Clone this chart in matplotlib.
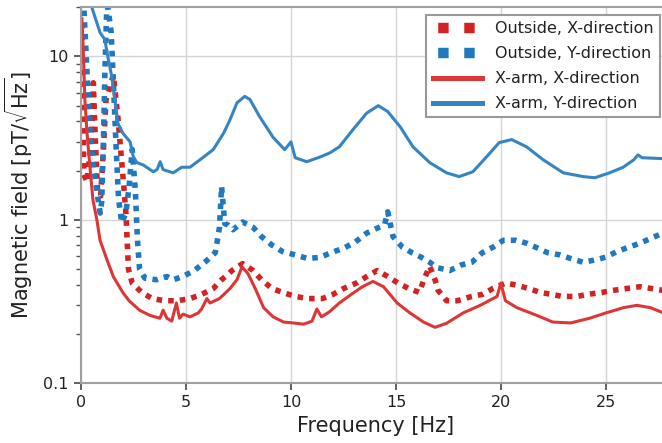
import matplotlib
matplotlib.use("Agg")
import matplotlib.pyplot as plt
from matplotlib.lines import Line2D
from matplotlib.ticker import FixedLocator, FixedFormatter, LogLocator, NullFormatter

# X-arm, Y-direction (solid blue)
arm_y_freq = [0.5, 0.92, 1.15, 1.25, 1.48, 1.63, 1.77, 2.0, 2.35, 2.5, 2.67, 2.97, 3.45, 3.63,
              3.78, 3.92, 4.4, 4.8, 5.2, 5.67, 6.3, 6.8, 7.1, 7.43, 7.8, 8.05, 8.5, 9.15, 9.7,
              10.0, 10.2, 10.75, 11.4, 11.85, 12.3, 12.95, 13.6, 14.15, 14.6, 15.2, 15.8, 16.6,
              17.4, 18.0, 18.65, 19.3, 19.9, 20.5, 21.2, 22.0, 22.95, 23.9, 24.45, 25.15, 25.8,
              26.3, 26.5, 26.7, 27.7]
arm_y_val = [20.5, 14.0, 12.7, 10.6, 7.5, 5.4, 3.9, 3.4, 3.0, 2.44, 2.24, 2.17, 1.97, 2.03,
             2.27, 2.03, 1.94, 2.1, 2.1, 2.33, 2.69, 3.4, 4.1, 5.2, 5.7, 5.45, 4.3, 3.2, 2.69,
             3.0, 2.4, 2.27, 2.43, 2.57, 2.8, 3.57, 4.5, 5.0, 4.6, 3.7, 2.8, 2.24,
             1.94, 1.84, 1.97, 2.43, 2.97, 3.1, 2.8, 2.33, 1.94, 1.84, 1.81, 1.94, 2.1,
             2.33, 2.5, 2.4, 2.37]

# X-arm, X-direction (solid red)
arm_x_freq = [0.06, 0.12, 0.2, 0.3, 0.44, 0.58, 0.77, 0.92, 1.25, 1.55, 2.0, 2.3, 2.8,
              3.3, 3.77, 3.92, 4.1, 4.33, 4.55, 4.7, 4.87, 5.2, 5.6, 5.75, 6.0, 6.15, 6.6,
              7.1, 7.43, 7.67, 7.95, 8.3, 8.7, 9.15, 9.65, 10.1, 10.6, 11.0, 11.23, 11.45,
              11.85, 12.3, 12.95, 13.4, 13.9, 14.4, 15.05, 15.65, 16.3, 16.85, 17.4, 18.2,
              19.0, 19.8, 19.98, 20.2, 20.75, 21.7, 22.45, 23.3, 24.2, 25.0, 25.8, 26.45,
              27.1, 27.7]
arm_x_val = [17.0, 11.0, 5.4, 3.4, 2.1, 1.33, 1.0, 0.75, 0.57, 0.45, 0.36, 0.32, 0.28,
             0.26, 0.25, 0.28, 0.25, 0.24, 0.31, 0.25, 0.265, 0.255, 0.27, 0.285, 0.33, 0.31,
             0.33, 0.38, 0.43, 0.515, 0.47, 0.38, 0.29, 0.255, 0.237, 0.234, 0.23, 0.24,
             0.285, 0.255, 0.275, 0.31, 0.356, 0.39, 0.42, 0.39, 0.31, 0.27, 0.237, 0.22,
             0.233, 0.27, 0.30, 0.34, 0.41, 0.32, 0.29, 0.26, 0.237, 0.234, 0.25, 0.27,
             0.29, 0.30, 0.29, 0.27]

# Outside, X-direction (dotted red)
out_x_freq = [0.05, 0.1, 0.15, 0.3, 0.5, 0.6, 0.7, 0.8, 0.95, 1.1, 1.2, 1.55, 1.75, 1.9,
              2.05, 2.15, 2.22, 2.27, 2.45, 2.9, 3.4, 4.0, 4.6, 5.2, 5.75, 6.3, 6.7, 7.2,
              7.7, 8.2, 8.6, 9.1, 9.6, 10.2, 10.8, 11.5, 12.0, 12.5, 13.1, 13.6, 14.1, 14.6,
              15.1, 15.6, 16.1, 16.35, 16.6, 16.85, 17.0, 17.4, 17.9, 18.6, 19.1, 19.6,
              20.2, 20.7, 21.3, 21.85, 22.4, 22.9, 23.6, 24.1, 24.8, 25.3, 25.95, 26.6,
              27.15, 27.7]
out_x_val = [16.0, 6.0, 1.9, 1.7, 3.0, 6.9, 3.0, 1.5, 1.4, 3.0, 5.4, 7.7, 4.5, 2.7,
             1.6, 1.1, 0.7, 0.5, 0.41, 0.36, 0.33, 0.32, 0.32, 0.33, 0.35, 0.38, 0.43, 0.49,
             0.54, 0.49, 0.43, 0.38, 0.36, 0.34, 0.33, 0.33, 0.35, 0.38, 0.41, 0.45, 0.49,
             0.45, 0.41, 0.38, 0.36, 0.44, 0.52, 0.43, 0.37, 0.32, 0.32, 0.34, 0.35, 0.38,
             0.41, 0.40, 0.38, 0.36, 0.35, 0.34, 0.34, 0.35, 0.36, 0.37, 0.38, 0.39, 0.38,
             0.37]

# Outside, Y-direction (dotted blue)
out_y_freq = [0.05, 0.15, 0.3, 0.45, 0.6, 0.8, 0.93, 1.0, 1.08, 1.15, 1.25, 1.45, 1.6, 1.7,
              1.8, 1.95, 2.15, 2.3, 2.45, 2.6, 2.7, 2.8, 3.05, 3.6, 4.1, 4.4, 4.86, 5.4, 5.9,
              6.4, 6.5, 6.6, 6.7, 6.85, 7.0, 7.24, 7.7, 8.2, 8.6, 9.1, 9.6, 10.2, 10.8, 11.4,
              11.9, 12.5, 13.05, 13.6, 14.1, 14.45, 14.6, 14.85, 15.3, 15.75, 16.2, 16.6,
              16.95, 17.55, 18.1, 18.6, 19.1, 19.6, 20.1, 20.7, 21.2, 21.75, 22.2, 22.8,
              23.3, 23.9, 24.5, 24.95, 25.5, 26.05, 26.6, 27.2, 27.7]
out_y_val = [25.0, 20.0, 8.0, 3.5, 2.2, 1.4, 1.1, 1.3, 3.0, 8.0, 22.0, 14.0, 5.0, 2.5,
             1.35, 0.96, 1.1, 1.6, 2.7, 1.5, 0.75, 0.5, 0.44, 0.43, 0.45, 0.43, 0.45, 0.49,
             0.55, 0.63, 0.75, 0.9, 1.6, 0.95, 0.93, 0.87, 0.97, 0.9, 0.79, 0.70, 0.64, 0.61,
             0.58, 0.59, 0.63, 0.67, 0.73, 0.83, 0.89, 0.93, 1.12, 0.79, 0.68, 0.63, 0.59,
             0.55, 0.51, 0.49, 0.53, 0.55, 0.63, 0.68, 0.75, 0.75, 0.72, 0.67, 0.63, 0.61,
             0.58, 0.55, 0.57, 0.59, 0.64, 0.68, 0.72, 0.78, 0.83]

labels = ["Outside, X-direction", "Outside, Y-direction",
          "X-arm, X-direction", "X-arm, Y-direction"]
red_dot, blue_dot = "#d42222", "#1f78c0"
red_line, blue_line = "#dc3636", "#3584c4"
dots = (0, (1, 1.1))

fig = plt.figure(figsize=(6.62, 4.43), dpi=100)
ax = fig.add_axes([0.1219, 0.1348, 0.8894, 0.8488])

ax.plot(out_x_freq, out_x_val, color=red_dot, lw=4, linestyle=dots)
ax.plot(out_y_freq, out_y_val, color=blue_dot, lw=4, linestyle=dots)
ax.plot(arm_x_freq, arm_x_val, color=red_line, lw=2.2)
ax.plot(arm_y_freq, arm_y_val, color=blue_line, lw=2.2)

ax.set_yscale("log")
ax.set_xlim(0, 28)
ax.set_ylim(0.1, 20)
ax.yaxis.set_major_locator(FixedLocator([0.1, 1, 10]))
ax.yaxis.set_major_formatter(FixedFormatter(["0.1", "1", "10"]))
ax.yaxis.set_minor_locator(LogLocator(base=10, subs=range(2, 10)))
ax.yaxis.set_minor_formatter(NullFormatter())
ax.set_xticks([0, 5, 10, 15, 20, 25])

ax.grid(True, which="major", color="#d4d4d4", lw=1.0)
for side in ["left", "bottom", "top", "right"]:
    ax.spines[side].set_color("#a0a0a0")
    ax.spines[side].set_linewidth(1.5)
ax.tick_params(which="major", length=5, width=1.3, color="#555555",
               labelsize=11.5, labelcolor="#222222")
ax.tick_params(which="minor", length=3.5, width=1.0, color="#555555")

ax.set_xlabel("Frequency [Hz]", fontsize=15, color="#222222", labelpad=4)
ax.set_ylabel(r"Magnetic field [pT/$\sqrt{\mathrm{Hz}}$]", fontsize=15,
              color="#222222", labelpad=6)

handles = [
    Line2D([], [], color=red_dot, lw=7.5, linestyle=(2.0, (1, 1.5))),
    Line2D([], [], color=blue_dot, lw=7.5, linestyle=(2.0, (1, 1.5))),
    Line2D([], [], color=red_line, lw=3.6),
    Line2D([], [], color=blue_line, lw=3.6),
]
leg = fig.legend(handles, labels, loc="upper right", bbox_to_anchor=(660 / 662, 1 - 15 / 443),
                 fontsize=11.5, handlelength=3.1, handletextpad=0.8, labelspacing=0.62,
                 fancybox=False, framealpha=1, borderaxespad=0)
leg.get_frame().set_edgecolor("#999999")
leg.get_frame().set_linewidth(1.5)
for t in leg.get_texts():
    t.set_color("#222222")

fig.savefig("out.png", dpi=100)
